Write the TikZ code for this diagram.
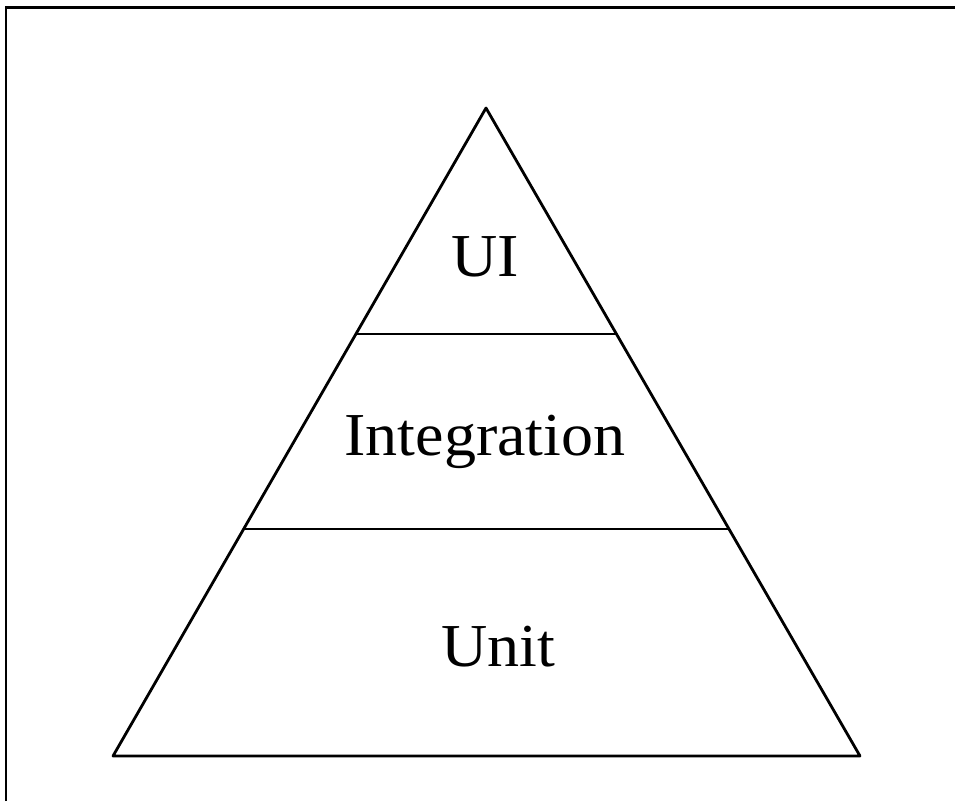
\documentclass[tikz,border=0pt]{standalone}
\usepackage{fontspec}
\setmainfont[FakeStretch=1.05]{Liberation Serif}
\begin{document}
\begin{tikzpicture}[x=1pt,y=-1pt,
  edge/.style={line width=2.8pt, black, line join=round},
  frame/.style={line width=2.2pt, black},
  label/.style={font=\fontsize{61}{64}\selectfont, inner sep=0pt, anchor=base}]
\useasboundingbox (0,0) rectangle (955,801);
\fill[white] (0,0) rectangle (955,801);
\draw[frame] (6,801) -- (6,7.5) -- (955,7.5);
\coordinate (apex) at (486,108);
\coordinate (bl) at (113,756);
\coordinate (br) at (860,756);
\coordinate (l1) at (356,334);
\coordinate (r1) at (616,334);
\coordinate (l2) at (243.5,529);
\coordinate (r2) at (728,529);
\draw[edge] (bl) -- (apex) -- (br) -- cycle;
\draw[edge] (l1) -- (r1);
\draw[edge] (l2) -- (r2);
\node[label] (ui) at (485,276) {UI};
\node[label] (int) at (485,455) {Integration};
\node[label] (unit) at (498,666) {Unit};
\end{tikzpicture}
\end{document}
